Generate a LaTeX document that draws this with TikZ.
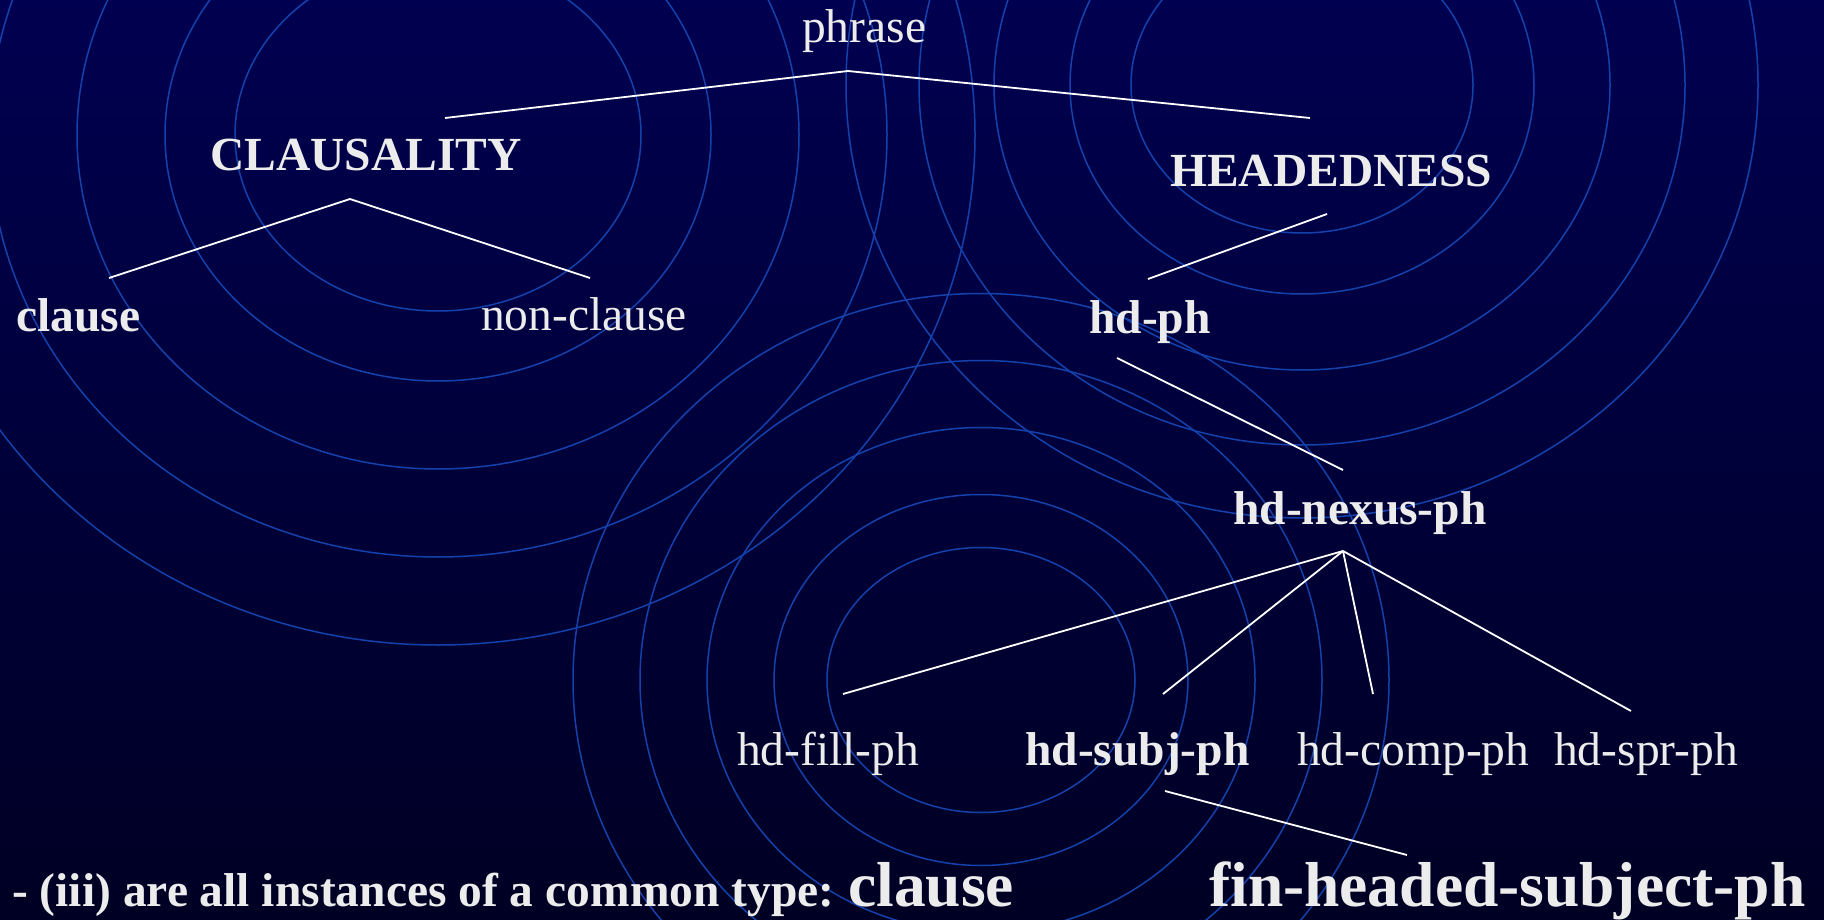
\documentclass[tikz,border=0pt]{standalone}
\usepackage{fontspec}
\setmainfont{Liberation Serif}[Ligatures={NoCommon}]
\definecolor{bgtop}{RGB}{0,0,80}
\definecolor{bgmid}{RGB}{0,0,102}
\definecolor{bgbot}{RGB}{0,0,36}
\definecolor{ringblue}{RGB}{20,66,172}
\definecolor{labelgrey}{RGB}{236,236,236}
\begin{document}
\begin{tikzpicture}[x=1pt,y=-1pt,
  ring/.style={draw=ringblue, line width=1.5pt},
  branch/.style={draw=white, line width=1.8pt},
  lbl/.style={anchor=base west, inner sep=0pt, text=labelgrey,
              font=\fontsize{47.5}{50}\selectfont},
  lblb/.style={lbl, font=\fontsize{47.5}{50}\selectfont\bfseries},
  big/.style={lbl, font=\fontsize{63.5}{66}\selectfont\bfseries}]

\useasboundingbox (0,0) rectangle (1824,920);

% backdrop
\shade[top color=bgtop, middle color=bgmid, bottom color=bgbot]
  (0,0) rectangle (1824,920);

% three families of nested ripples
\begin{scope}
  \clip (0,0) rectangle (1824,920);
  \foreach \a/\b in {203/176,273/246,361/334,449/422,537/510}
    \draw[ring] (438,135) ellipse [x radius=\a pt, y radius=\b pt];
  \foreach \a/\b in {171/148,232/209,308/285,383/360,456/433}
    \draw[ring] (1302,85) ellipse [x radius=\a pt, y radius=\b pt];
  \foreach \a/\b in {154/132.5,207/185.5,274/252.5,341/319.5,408/386.5}
    \draw[ring] (981,680) ellipse [x radius=\a pt, y radius=\b pt];
\end{scope}

% type hierarchy labels
\node[lbl]  (phrase)    at (802,43)  {phrase};
\node[lblb] (claus)     at (210,171) {CLAUSALITY};
\node[lblb] (head)      at (1170,187) {HEADEDNESS};
\node[lblb] (clause)    at (16,331)  {clause};
\node[lbl]  (nonclause) at (481,330) {non-clause};
\node[lblb] (hdph)      at (1089,333) {hd-ph};
\node[lblb] (nexus)     at (1233,524) {hd-nexus-ph};
\node[lbl]  (fill)      at (737,765) {hd-fill-ph};
\node[lblb] (subj)      at (1025,765) {hd-subj-ph};
\node[lbl]  (comp)      at (1297,765) {hd-comp-ph};
\node[lbl]  (spr)       at (1554,765) {hd-spr-ph};
\node[lblb] (note)      at (12,906)  {- (iii) are all instances of a common type:};
\node[big]  (clausebig) at (848,906) {clause};
\node[big]  (finhd)     at (1209,906) {fin-headed-subject-ph};

% branch end points, placed relative to their labels
\coordinate (phrase-foot)   at ([shift={(46,28)}]phrase.base west);
\coordinate (claus-top)     at ([shift={(235,-53)}]claus.base west);
\coordinate (claus-foot)    at ([shift={(140,28)}]claus.base west);
\coordinate (head-top)      at ([shift={(140,-69)}]head.base west);
\coordinate (head-foot)     at ([shift={(157,27)}]head.base west);
\coordinate (clause-top)    at ([shift={(93,-53)}]clause.base west);
\coordinate (nonclause-top) at ([shift={(109,-52)}]nonclause.base west);
\coordinate (hdph-top)      at ([shift={(59,-54)}]hdph.base west);
\coordinate (hdph-foot)     at ([shift={(28,25)}]hdph.base west);
\coordinate (nexus-top)     at ([shift={(110,-54)}]nexus.base west);
\coordinate (nexus-foot)    at ([shift={(110,27)}]nexus.base west);
\coordinate (fill-top)      at ([shift={(106,-71)}]fill.base west);
\coordinate (subj-top)      at ([shift={(138,-71)}]subj.base west);
\coordinate (subj-foot)     at ([shift={(140,26)}]subj.base west);
\coordinate (comp-top)      at ([shift={(76,-71)}]comp.base west);
\coordinate (spr-top)       at ([shift={(77,-54)}]spr.base west);
\coordinate (fin-top)       at ([shift={(198,-51)}]finhd.base west);

% tree branches
\draw[branch] (claus-top) -- (phrase-foot) -- (head-top);
\draw[branch] (clause-top) -- (claus-foot) -- (nonclause-top);
\draw[branch] (head-foot) -- (hdph-top);
\draw[branch] (hdph-foot) -- (nexus-top);
\draw[branch] (nexus-foot) -- (fill-top);
\draw[branch] (nexus-foot) -- (subj-top);
\draw[branch] (nexus-foot) -- (comp-top);
\draw[branch] (nexus-foot) -- (spr-top);
\draw[branch] (subj-foot) -- (fin-top);

\end{tikzpicture}
\end{document}
